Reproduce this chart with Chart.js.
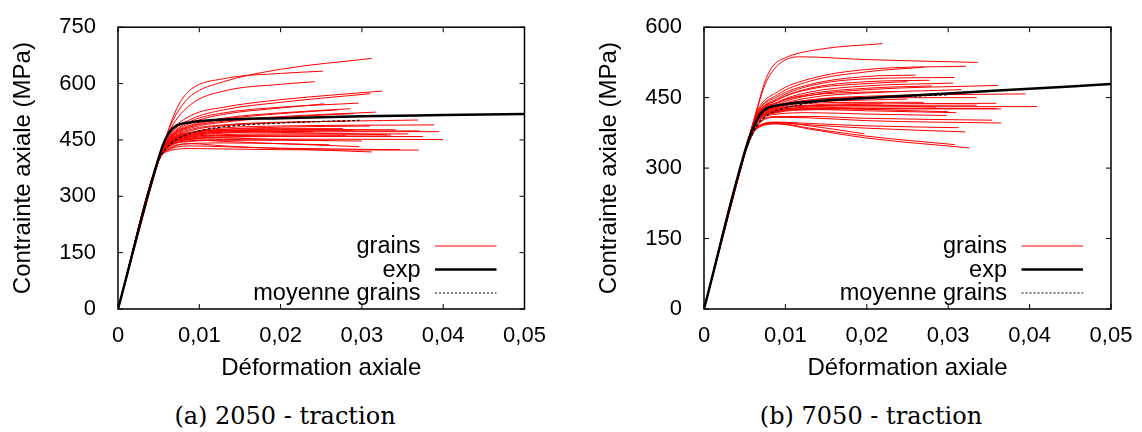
<!DOCTYPE html>
<html>
<head>
<meta charset="utf-8">
<script src="https://cdn.jsdelivr.net/npm/chart.js@4.4.1/dist/chart.umd.min.js"></script>
<style>
  body { margin: 0; background: #fff; width: 1142px; height: 432px; position: relative; overflow: hidden; }
  canvas { position: absolute; top: 0; }
  #chartA { left: 0; }
  #chartB { left: 586px; }
  .caption {
    position: absolute; top: 402px; width: 400px; text-align: center;
    font-family: "DejaVu Serif", "Liberation Serif", serif; font-size: 24px; line-height: 28px; color: #000;
  }
</style>
</head>
<body>
<canvas id="chartA" width="560" height="380"></canvas>
<canvas id="chartB" width="556" height="380"></canvas>
<div class="caption" style="left:85px">(a) 2050 - traction</div>
<div class="caption" style="left:671px">(b) 7050 - traction</div>

<script>
// ---- données ----
const xTicks = [0, 0.01, 0.02, 0.03, 0.04, 0.05];
const yTicksA = [0, 150, 300, 450, 600, 750];
const yTicksB = [0, 150, 300, 450, 600];

// 2050 - traction
const elasticA = [[0, 0], [0.005, 395]];
const expA = [[0, 0], [0.0055, 435], [0.0063, 470], [0.0072, 488], [0.009, 497], [0.012, 503],
  [0.02, 508], [0.03, 513], [0.04, 516], [0.05, 519]];
const meanA = [[0, 0], [0.005, 395], [0.0065, 440], [0.008, 460], [0.01, 474], [0.013, 485],
  [0.02, 495], [0.0297, 502]];
const grainsA = [
  [[0.0065, 490], [0.0075, 530], [0.009, 568], [0.013, 605], [0.02, 638], [0.0312, 667]],
  [[0.0065, 495], [0.0075, 545], [0.009, 585], [0.013, 613], [0.02, 627], [0.0252, 633]],
  [[0.0065, 480], [0.009, 545], [0.013, 580], [0.02, 598], [0.0242, 605]],
  [[0.0065, 470], [0.009, 515], [0.013, 537], [0.02, 557], [0.0325, 580]],
  [[0.0065, 466], [0.009, 505], [0.013, 530], [0.02, 550], [0.031, 573]],
  [[0.0065, 462], [0.009, 500], [0.013, 522], [0.02, 537], [0.0296, 548]],
  [[0.0065, 460], [0.009, 495], [0.013, 518], [0.02, 535], [0.0254, 546]],
  [[0.0065, 458], [0.009, 490], [0.013, 508], [0.02, 522], [0.0286, 533]],
  [[0.0065, 455], [0.009, 485], [0.013, 500], [0.02, 512], [0.0317, 524]],
  [[0.0065, 457], [0.009, 487], [0.013, 505], [0.02, 520], [0.027, 530]],
  [[0.0065, 454], [0.009, 482], [0.013, 497], [0.02, 510], [0.029, 520]],
  [[0.0065, 450], [0.009, 475], [0.013, 488], [0.02, 496], [0.0369, 503]],
  [[0.0065, 447], [0.009, 470], [0.013, 482], [0.02, 487], [0.0389, 490]],
  [[0.0065, 445], [0.009, 465], [0.013, 475], [0.02, 478], [0.0342, 477]],
  [[0.0065, 444], [0.009, 463], [0.013, 471], [0.02, 474], [0.0371, 474]],
  [[0.0065, 442], [0.009, 460], [0.013, 468], [0.02, 471], [0.0395, 472]],
  [[0.0065, 440], [0.009, 458], [0.013, 464], [0.02, 466], [0.0357, 466]],
  [[0.0065, 439], [0.009, 455], [0.013, 461], [0.02, 463], [0.0336, 463]],
  [[0.0065, 437], [0.009, 452], [0.013, 457], [0.02, 459], [0.0375, 459]],
  [[0.0065, 435], [0.009, 448], [0.013, 451], [0.02, 452], [0.04, 451]],
  [[0.0065, 448], [0.009, 468], [0.013, 478], [0.02, 480], [0.0277, 480]],
  [[0.0065, 445], [0.009, 465], [0.013, 473], [0.02, 476], [0.0291, 476]],
  [[0.0065, 440], [0.009, 455], [0.013, 455], [0.02, 451], [0.0259, 448]],
  [[0.0065, 438], [0.009, 450], [0.013, 446], [0.02, 440], [0.0297, 432]],
  [[0.0065, 422], [0.009, 427], [0.013, 426], [0.02, 424], [0.037, 423]],
  [[0.0065, 430], [0.009, 440], [0.013, 434], [0.02, 427], [0.0312, 418]],
  [[0.0065, 426], [0.009, 434], [0.013, 432], [0.02, 428], [0.0347, 424]],
  [[0.0065, 452], [0.009, 478], [0.013, 490], [0.02, 497], [0.028, 500]],
  [[0.0065, 443], [0.009, 462], [0.013, 470], [0.02, 472], [0.024, 472]],
  [[0.0065, 438], [0.009, 452], [0.013, 458], [0.02, 460], [0.028, 461]],
  [[0.0065, 450], [0.009, 470], [0.013, 475], [0.02, 470], [0.033, 464]],
  [[0.0065, 446], [0.009, 468], [0.013, 478], [0.02, 484], [0.031, 487]],
  [[0.0065, 434], [0.009, 446], [0.013, 449], [0.02, 449], [0.03, 447]],
  [[0.0065, 441], [0.009, 458], [0.013, 462], [0.02, 460], [0.0225, 459]],
  [[0.0065, 428], [0.009, 440], [0.013, 442], [0.02, 440], [0.026, 437]]
];

// 7050 - traction
const elasticB = [[0, 0], [0.005, 330]];
const expB = [[0, 0], [0.0055, 362], [0.0063, 395], [0.0069, 414], [0.0076, 426], [0.01, 436],
  [0.014, 443], [0.02, 449], [0.03, 459], [0.04, 469], [0.05, 479]];
const meanB = [[0, 0], [0.005, 330], [0.0065, 390], [0.008, 415], [0.01, 428], [0.014, 441],
  [0.02, 449], [0.0298, 456]];
const grainsB = [
  [[0.0065, 426], [0.0075, 485], [0.0085, 518], [0.01, 535], [0.0142, 553], [0.0219, 565]],
  [[0.0065, 424], [0.0075, 478], [0.009, 518], [0.0117, 537], [0.02, 531], [0.0336, 525]],
  [[0.0065, 420], [0.009, 462], [0.013, 490], [0.02, 510], [0.0322, 517]],
  [[0.0065, 416], [0.009, 456], [0.013, 485], [0.02, 505], [0.0271, 515]],
  [[0.0065, 412], [0.009, 448], [0.013, 475], [0.02, 490], [0.0308, 493]],
  [[0.0065, 410], [0.009, 445], [0.013, 470], [0.02, 484], [0.0277, 487]],
  [[0.0065, 409], [0.009, 440], [0.013, 462], [0.02, 475], [0.0306, 481]],
  [[0.0065, 406], [0.009, 435], [0.013, 455], [0.02, 467], [0.0361, 476]],
  [[0.0065, 405], [0.009, 432], [0.013, 450], [0.02, 460], [0.0316, 467]],
  [[0.0065, 402], [0.009, 430], [0.013, 445], [0.02, 453], [0.0395, 458]],
  [[0.0065, 400], [0.009, 425], [0.013, 432], [0.02, 436], [0.0359, 438]],
  [[0.0065, 398], [0.009, 422], [0.013, 430], [0.02, 433], [0.0335, 434]],
  [[0.0065, 398], [0.009, 420], [0.013, 427], [0.02, 430], [0.0409, 431]],
  [[0.0065, 396], [0.009, 418], [0.013, 424], [0.02, 426], [0.0365, 426]],
  [[0.0065, 395], [0.009, 415], [0.013, 418], [0.02, 415], [0.0298, 412]],
  [[0.0065, 392], [0.009, 410], [0.013, 410], [0.02, 406], [0.0354, 402]],
  [[0.0065, 390], [0.009, 408], [0.013, 407], [0.02, 401], [0.0365, 396]],
  [[0.0065, 388], [0.009, 398], [0.013, 395], [0.02, 390], [0.0313, 386]],
  [[0.0065, 387], [0.009, 396], [0.013, 392], [0.02, 385], [0.0321, 377]],
  [[0.0065, 385], [0.009, 395], [0.013, 385], [0.02, 368], [0.0308, 350]],
  [[0.0065, 384], [0.009, 394], [0.013, 383], [0.02, 364], [0.0326, 343]],
  [[0.0065, 386], [0.009, 397], [0.013, 390], [0.0197, 373]],
  [[0.0065, 408], [0.009, 438], [0.013, 458], [0.02, 470], [0.028, 475]],
  [[0.0065, 405], [0.009, 430], [0.013, 440], [0.02, 445], [0.025, 447]],
  [[0.0065, 403], [0.009, 428], [0.013, 438], [0.02, 440], [0.027, 440]],
  [[0.0065, 400], [0.009, 425], [0.013, 434], [0.02, 437], [0.022, 437]],
  [[0.0065, 410], [0.009, 440], [0.013, 455], [0.02, 462], [0.024, 463]],
  [[0.0065, 402], [0.009, 423], [0.013, 428], [0.02, 425], [0.03, 420]],
  [[0.0065, 400], [0.009, 420], [0.013, 425], [0.02, 422], [0.031, 418]],
  [[0.0065, 412], [0.009, 445], [0.013, 468], [0.02, 480], [0.025, 484]],
  [[0.0065, 415], [0.009, 452], [0.013, 478], [0.02, 495], [0.026, 498]],
  [[0.0065, 407], [0.009, 432], [0.013, 445], [0.02, 450], [0.0335, 450]],
  [[0.0065, 404], [0.009, 427], [0.013, 433], [0.02, 433], [0.0285, 430]],
  [[0.0065, 399], [0.009, 421], [0.013, 426], [0.02, 427], [0.036, 427]]
];

const legendLabels = ['grains', 'exp', 'moyenne grains'];

// ---- rendu ----
const toXY = pts => pts.map(p => ({ x: p[0], y: p[1] }));
const fmtX = v => v === 0 ? '0' : v.toFixed(2).replace('.', ',');

// cadre gnuplot : bordure, graduations intérieures et légende en bas à droite
const gnuplotFrame = {
  id: 'gnuplotFrame',
  afterDraw(chart) {
    const { ctx, chartArea: a, scales: { x, y } } = chart;
    ctx.save();
    ctx.strokeStyle = '#000';
    ctx.lineWidth = 1;
    ctx.beginPath();
    x.ticks.forEach(t => {
      const px = x.getPixelForValue(t.value);
      ctx.moveTo(px, a.bottom); ctx.lineTo(px, a.bottom - 5);
      ctx.moveTo(px, a.top); ctx.lineTo(px, a.top + 5);
    });
    y.ticks.forEach(t => {
      const py = y.getPixelForValue(t.value);
      ctx.moveTo(a.left, py); ctx.lineTo(a.left + 5, py);
      ctx.moveTo(a.right, py); ctx.lineTo(a.right - 5, py);
    });
    ctx.stroke();
    ctx.lineWidth = 1.5;
    ctx.strokeRect(a.left, a.top, a.right - a.left, a.bottom - a.top);

    // légende
    ctx.font = '23.5px "Liberation Sans", Arial, sans-serif';
    ctx.fillStyle = '#000';
    ctx.textAlign = 'right';
    ctx.textBaseline = 'middle';
    const rows = [a.bottom - 63, a.bottom - 39.5, a.bottom - 16];
    const styles = [
      { color: '#ff0000', width: 1, dash: [] },
      { color: '#000', width: 2.5, dash: [] },
      { color: '#000', width: 1, dash: [2, 2] }
    ];
    legendLabels.forEach((lbl, i) => {
      ctx.fillText(lbl, a.right - 104, rows[i] + 1);
      ctx.beginPath();
      ctx.strokeStyle = styles[i].color;
      ctx.lineWidth = styles[i].width;
      ctx.setLineDash(styles[i].dash);
      ctx.moveTo(a.right - 89.5, rows[i]);
      ctx.lineTo(a.right - 28, rows[i]);
      ctx.stroke();
    });
    ctx.restore();
  }
};

function makeChart(id, elastic, grains, exp, mean, yMax, yTicks, padRight) {
  const datasets = [
    { data: toXY(exp), borderColor: '#000', borderWidth: 2.5 },
    { data: toXY(mean), borderColor: '#000', borderWidth: 1.2, borderDash: [3, 2] }
  ];
  grains.forEach(g => {
    datasets.push({ data: toXY(elastic.concat(g)), borderColor: '#ff0000', borderWidth: 1 });
  });
  datasets.forEach(d => {
    d.showLine = true;
    d.pointRadius = 0;
    d.fill = false;
    d.cubicInterpolationMode = 'monotone';
  });

  const tickFont = { family: '"Liberation Sans", Arial, sans-serif', size: 22 };
  const titleFont = { family: '"Liberation Sans", Arial, sans-serif', size: 24, lineHeight: 1 };

  return new Chart(document.getElementById(id), {
    type: 'scatter',
    data: { datasets },
    options: {
      responsive: false,
      animation: false,
      devicePixelRatio: 1,
      layout: { padding: { top: 18, right: padRight, left: 0, bottom: 0 } },
      plugins: { legend: { display: false }, tooltip: { enabled: false } },
      scales: {
        x: {
          type: 'linear', min: 0, max: 0.05,
          afterBuildTicks: s => { s.ticks = xTicks.map(v => ({ value: v })); },
          afterFit: s => { s.height = 71; },
          grid: { display: false }, border: { display: false },
          ticks: { color: '#000', font: tickFont, padding: 6, maxRotation: 0, callback: fmtX },
          title: { display: true, text: 'Déformation axiale', color: '#000', font: titleFont, padding: { top: 0, bottom: 0 } }
        },
        y: {
          type: 'linear', min: 0, max: yMax,
          afterBuildTicks: s => { s.ticks = yTicks.map(v => ({ value: v })); },
          afterFit: s => { s.width = 118; },
          grid: { display: false }, border: { display: false },
          ticks: { color: '#000', font: tickFont, padding: 14 },
          title: { display: true, text: 'Contrainte axiale (MPa)', color: '#000', font: titleFont, padding: { top: 11, bottom: 0 } }
        }
      }
    },
    plugins: [gnuplotFrame]
  });
}

makeChart('chartA', elasticA, grainsA, expA, meanA, 750, yTicksA, 35.5);
makeChart('chartB', elasticB, grainsB, expB, meanB, 600, yTicksB, 31);
</script>
</body>
</html>
